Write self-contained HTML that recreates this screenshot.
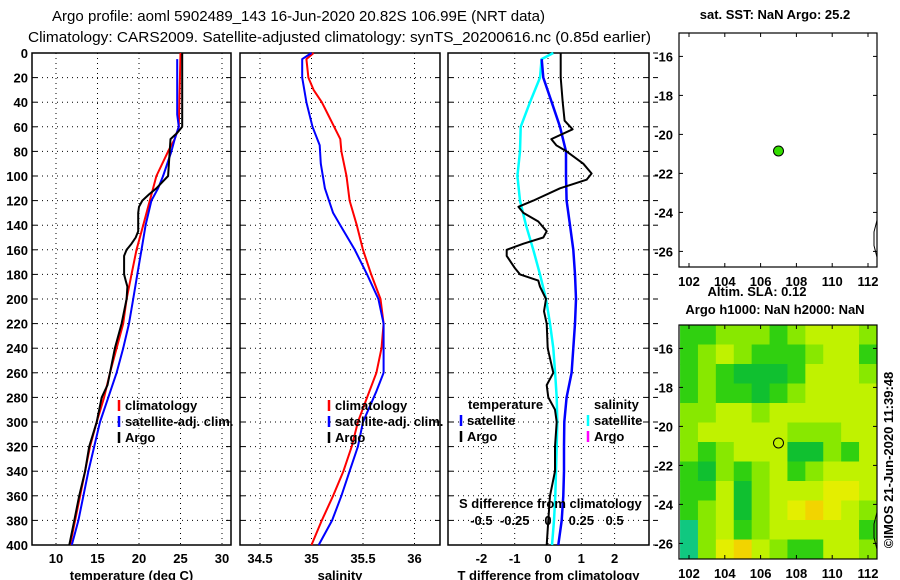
<!DOCTYPE html>
<html><head><meta charset="utf-8">
<style>
html,body{margin:0;padding:0;background:#fff;}
svg{display:block;font-family:"Liberation Sans",Arial,sans-serif;}
.t{font-size:13px;font-weight:bold;fill:#000;}
.ttl{font-size:15px;fill:#000;}
</style></head>
<body>
<svg id="chart" width="900" height="580" viewBox="0 0 900 580" xmlns="http://www.w3.org/2000/svg">
<text class="ttl" x="52" y="21" textLength="493" lengthAdjust="spacingAndGlyphs">Argo profile: aoml 5902489_143 16-Jun-2020 20.82S 106.99E (NRT data)</text>
<text class="ttl" x="28" y="42" textLength="623" lengthAdjust="spacingAndGlyphs">Climatology: CARS2009. Satellite-adjusted climatology: synTS_20200616.nc (0.85d earlier)</text>
<g id="g"></g>
</svg>
<script>
// ---- temperature panel data ----
const climTDepth = [0,60,70,80,100,120,140,160,180,200,220,240,260,280,300,320,340,360,380,400];
const climTVal = [25.0,24.8,24.3,23.5,22.1,21.3,20.5,19.7,19.1,18.5,18.1,17.3,16.5,15.8,14.9,14.1,13.5,12.9,12.3,11.7];
const satTDepth = [5,50,60,70,80,100,110,120,140,160,180,200,220,240,260,280,300,320,340,360,380,400];
const satTVal = [24.6,24.6,24.8,24.3,23.9,22.9,22.3,21.5,20.8,20.3,19.8,19.3,18.8,18.1,17.3,16.3,15.3,14.6,13.9,13.3,12.7,11.9];
const argoTDepth = [0,60,65,70,80,90,100,105,110,115,120,125,130,145,150,155,160,165,180,185,190,200,220,240,260,270,280,300,320,340,360,380,400];
const argoTVal = [25.2,25.2,24.6,23.8,23.7,23.6,23.5,22.8,22.1,21.2,20.4,20.0,19.9,19.9,19.6,19.1,18.5,18.2,18.2,18.4,18.6,18.5,17.9,17.1,16.5,16.2,15.5,14.9,14.0,13.5,12.8,12.2,11.6];
// ---- salinity panel data ----
const climSDepth = [0,5,20,30,40,50,70,80,100,120,140,160,180,200,220,240,260,280,300,320,340,360,380,400];
const climSVal = [35.02,34.95,34.97,35.02,35.10,35.16,35.28,35.29,35.34,35.37,35.44,35.50,35.58,35.67,35.70,35.68,35.63,35.54,35.45,35.39,35.31,35.21,35.10,35.00];
const satSDepth = [0,5,20,40,60,75,90,110,130,140,160,180,200,220,240,260,275,300,320,340,360,380,400];
const satSVal = [35.00,34.91,34.91,34.95,35.01,35.08,35.09,35.13,35.21,35.28,35.42,35.54,35.65,35.70,35.70,35.70,35.63,35.50,35.45,35.37,35.29,35.20,35.07];
// ---- difference panel data ----
const satTdDepth = [5,20,40,60,80,100,120,140,160,180,200,220,240,260,280,300,320,340,360,380,400];
const satTdVal = [-0.19,-0.14,0.11,0.36,0.54,0.54,0.56,0.66,0.76,0.81,0.84,0.81,0.76,0.71,0.56,0.49,0.48,0.48,0.46,0.41,0.31];
const satSdDepth = [0,5,20,40,60,80,100,120,140,160,180,200,220,240,260,280,300,320,340,360,380,400];
const satSdVal = [0.04,-0.048,-0.06,-0.135,-0.205,-0.21,-0.23,-0.21,-0.165,-0.11,-0.06,-0.015,0.015,0.04,0.053,0.065,0.07,0.065,0.06,0.055,0.045,0.03];
const argoTdDepth = [0,20,40,55,62,70,75,80,90,98,103,110,120,125,130,137,145,150,155,160,165,175,180,185,190,200,210,220,240,260,270,280,290,300,320,340,360,380,400];
const argoTdVal = [0.38,0.38,0.44,0.5,0.74,0.1,0.25,0.56,1.06,1.31,1.16,0.36,-0.44,-0.89,-0.74,-0.29,-0.04,-0.14,-0.74,-1.24,-1.24,-0.99,-0.84,-0.29,-0.24,-0.06,-0.12,-0.04,-0.01,0.16,-0.04,0.01,0.21,0.26,0.21,0.21,0.06,0.01,-0.04];
// ---- ticks ----
const depthTicks = [0,20,40,60,80,100,120,140,160,180,200,220,240,260,280,300,320,340,360,380,400];
const tempTicks = [10,15,20,25,30];
const salTicks = [34.5,35,35.5,36];
const tdTicks = [-2,-1,0,1,2];
const sdTicks = [-0.5,-0.25,0,0.25,0.5];
const sdTickLabels = ["-0.5","-0.25","0","0.25","0.5"];
const lonTicks = [102,104,106,108,110,112];
const latTicks = [-16,-18,-20,-22,-24,-26];
// ---- map data ----
const argoLon = 107.0;
const argoLat = -20.85;
const slaLon0 = 101.5;
const slaLat0 = -14.8;
const slaGrid = [
 [1,1,2,2,2,1,2,3,3,3,2],
 [1,2,3,2,1,1,1,2,3,3,1],
 [1,2,1,0,0,0,1,3,3,3,2],
 [1,2,1,1,0,1,2,3,3,3,3],
 [2,2,3,3,2,3,3,3,3,3,3],
 [2,3,3,3,3,3,2,2,2,3,3],
 [2,1,2,3,3,3,0,0,2,1,3],
 [1,0,2,1,2,3,1,2,3,3,3],
 [1,1,3,0,2,3,3,3,4,4,3],
 [1,2,3,0,2,3,4,5,4,3,2],
 [-1,2,3,1,2,3,3,3,3,3,1],
 [-1,2,4,5,3,2,1,1,3,3,2]
];
const slaColors = {"-1":"#10c880","0":"#10c030","1":"#30d010","2":"#88e800","3":"#c0f200","4":"#e4ee00","5":"#f2d400"};

const NS="http://www.w3.org/2000/svg";
const G=document.getElementById('g');
function mk(tag,attrs,name,parent,inter){
  const el=document.createElementNS(NS,tag);
  for(const k in attrs) el.setAttribute(k,attrs[k]);
  
  
  (parent||G).appendChild(el);
  return el;
}
function txt(s,x,y,anchor,name,cls,parent){
  const el=mk('text',{x:x,y:y,'text-anchor':anchor||'start','class':cls||'t'},name,parent);
  el.textContent=s;return el;
}
const Y0=53,Y1=545;
function yD(d){return Y0+d*(Y1-Y0)/400;}
function xT(t){return 56+(t-10)*8.3;}
function xS(s){return 260+(s-34.5)*103;}
function xTd(t){return 548+t*33.3;}
function xSd(s){return xTd(s*4);}

function panel(x0,x1,name,ticks,xf,labels,title){
  const g=mk('g',{},name);
  mk('rect',{x:x0,y:Y0,width:x1-x0,height:Y1-Y0,fill:'#fff',stroke:'#000','stroke-width':1.5},name+'-frame',g);
  depthTicks.forEach(d=>{
    if(d>0&&d<400) mk('line',{x1:x0,x2:x1,y1:yD(d),y2:yD(d),stroke:'#000','stroke-dasharray':'1,4','stroke-width':1},name+'-hgrid',g);
    mk('line',{x1:x0,x2:x0+5,y1:yD(d),y2:yD(d),stroke:'#000'},name+'-ytick',g);
    mk('line',{x1:x1-5,x2:x1,y1:yD(d),y2:yD(d),stroke:'#000'},name+'-ytick',g);
  });
  ticks.forEach((t,i)=>{
    const x=xf(t);
    mk('line',{x1:x,x2:x,y1:Y0,y2:Y1,stroke:'#000','stroke-dasharray':'1,4'},name+'-vgrid',g);
    txt(labels[i],x,563,'middle',name+'-xtick-label',null,g);
  });
  txt(title,(x0+x1)/2,580,'middle',name+'-x-axis-title',null,g);
  return g;
}
function line(depths,vals,xf,color,w,name,parent){
  const pts=depths.map((d,i)=>xf(vals[i]).toFixed(1)+','+yD(d).toFixed(1)).join(' ');
  return mk('polyline',{points:pts,fill:'none',stroke:color,'stroke-width':w,'stroke-linejoin':'round'},name,parent);
}
function legend(x,y,color,label,name,parent){
  mk('line',{x1:x,x2:x,y1:y-10,y2:y+1,stroke:color,'stroke-width':2.5},name+'-swatch',parent);
  txt(label,x+6,y,'start',name+'-label',null,parent);
}

// Panel 1 temperature
const p1=panel(32,231,'temperature-panel',tempTicks,xT,tempTicks.map(String),'temperature (deg C)');
depthTicks.forEach(d=>txt(String(d),28,yD(d)+5,'end','depth-tick-label'));
line(climTDepth,climTVal,xT,'#ff0000',2,'climatology-temperature-line',p1);
line(satTDepth,satTVal,xT,'#0000ff',2,'satellite-temperature-line',p1);
line(argoTDepth,argoTVal,xT,'#000',2,'argo-temperature-line',p1);
legend(119,410,'#ff0000','climatology','legend-climatology',p1);
legend(119,426,'#0000ff','satellite-adj. clim.','legend-satellite',p1);
legend(119,442,'#000','Argo','legend-argo',p1);

// Panel 2 salinity
const p2=panel(240,440,'salinity-panel',salTicks,xS,['34.5','35','35.5','36'],'salinity');
line(climSDepth,climSVal,xS,'#ff0000',2,'climatology-salinity-line',p2);
line(satSDepth,satSVal,xS,'#0000ff',2,'satellite-salinity-line',p2);
legend(329,410,'#ff0000','climatology','legend-climatology-s',p2);
legend(329,426,'#0000ff','satellite-adj. clim.','legend-satellite-s',p2);
legend(329,442,'#000','Argo','legend-argo-s',p2);

// Panel 3 differences
const p3=panel(448,649,'difference-panel',tdTicks,xTd,['-2','-1','0','1','2'],'T difference from climatology');
depthTicks.forEach(d=>mk('line',{x1:653,x2:658,y1:yD(d),y2:yD(d),stroke:'#000'},'outer-tick',p3));
line(satSdDepth,satSdVal,xSd,'#00ffff',2.5,'satellite-salinity-diff-line',p3);
line(satTdDepth,satTdVal,xTd,'#0000ff',2.5,'satellite-temperature-diff-line',p3);
line(argoTdDepth,argoTdVal,xTd,'#000',2,'argo-temperature-diff-line',p3);
txt('temperature',468,409,'start','legend-temperature-heading',null,p3);
legend(461,425,'#0000ff','satellite','legend-temp-satellite',p3);
legend(461,441,'#000','Argo','legend-temp-argo',p3);
txt('salinity',594,409,'start','legend-salinity-heading',null,p3);
legend(588,425,'#00ffff','satellite','legend-sal-satellite',p3);
legend(588,441,'#ff00ff','Argo','legend-sal-argo',p3);
txt('S difference from climatology',459,508,'start','s-axis-title',null,p3);
sdTicks.forEach((s,i)=>txt(sdTickLabels[i],xSd(s),525,'middle','s-tick-label',null,p3));

// Maps
const MX0=679,MX1=877;
function xL(lon){return 689+(lon-102)*17.9;}
function map(top,name,fill){
  const g=mk('g',{},name);
  const yl=lat=>top+(-14.8-lat)*19.5;
  const h=yl(-26.8)-top;
  if(fill){
    const hg=mk('g',{},name+'-heatmap',g);
    slaGrid.forEach((row,r)=>row.forEach((v,c)=>{
      const xa=Math.max(MX0,xL(slaLon0+c)), xb=Math.min(MX1,xL(slaLon0+c+1));
      const ya=yl(slaLat0-r), yb=Math.min(top+h,yl(slaLat0-r-1));
      mk('rect',{x:xa,y:ya,width:Math.max(0,xb-xa)+0.5,height:Math.max(0,yb-ya)+0.5,fill:slaColors[String(v)]},'sla-cell',hg);
    }));
  }
  mk('rect',{x:MX0,y:top,width:MX1-MX0,height:h,fill:'none',stroke:'#000','stroke-width':1.2},name+'-frame',g);
  lonTicks.forEach(l=>{
    mk('line',{x1:xL(l),x2:xL(l),y1:top,y2:top+4,stroke:'#000'},name+'-lon-tick',g);
    mk('line',{x1:xL(l),x2:xL(l),y1:top+h-4,y2:top+h,stroke:'#000'},name+'-lon-tick',g);
    txt(String(l),xL(l),top+h+19,'middle',name+'-lon-label',null,g);
  });
  latTicks.forEach(l=>{
    mk('line',{x1:MX0,x2:MX0+4,y1:yl(l),y2:yl(l),stroke:'#000'},name+'-lat-tick',g);
    mk('line',{x1:MX1-4,x2:MX1,y1:yl(l),y2:yl(l),stroke:'#000'},name+'-lat-tick',g);
    txt(String(l),MX0-6,yl(l)+5,'end',name+'-lat-label',null,g);
  });
  mk('path',{d:`M${MX1} ${yl(-24.4)} L ${MX1-3} ${yl(-25)} L ${MX1-3} ${yl(-25.7)} L ${MX1} ${yl(-26.3)}`,fill:'none',stroke:'#000','stroke-width':1},name+'-coastline',g);
  return {g:g,yl:yl};
}
const m1=map(33,'sst-map',false);
mk('circle',{cx:xL(argoLon),cy:m1.yl(argoLat),r:5,fill:'#33dd00',stroke:'#000','stroke-width':1},'argo-location-marker',m1.g);
txt('sat. SST: NaN Argo: 25.2',775,19,'middle','sst-map-title');
const m2=map(325,'sla-map',true);
mk('circle',{cx:xL(argoLon),cy:m2.yl(argoLat),r:5,fill:'none',stroke:'#000','stroke-width':1},'argo-location-marker-sla',m2.g);
txt('Altim. SLA: 0.12',757,296,'middle','altim-sla-label');
txt('Argo h1000: NaN h2000: NaN',775,314,'middle','argo-height-label');
const cr=txt('\u00A9IMOS 21-Jun-2020 11:39:48',0,0,'middle','imos-timestamp');
cr.setAttribute('transform','translate(893,460) rotate(-90)');
</script>
</body></html>
